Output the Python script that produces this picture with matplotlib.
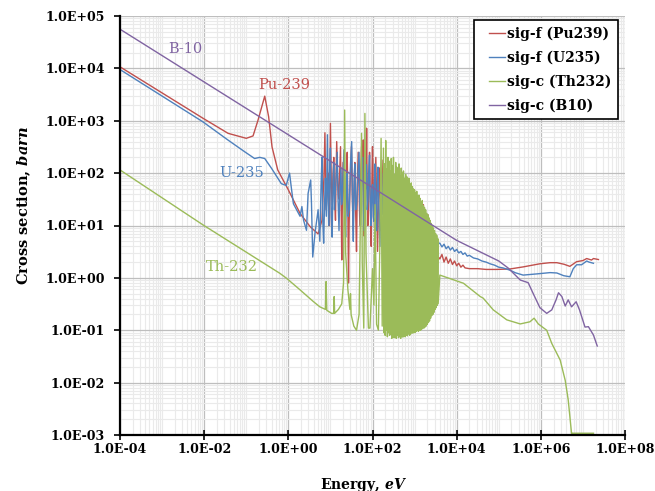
import matplotlib
matplotlib.use('Agg')
import matplotlib.pyplot as plt
from matplotlib.legend_handler import HandlerLine2D
from matplotlib.ticker import FixedLocator, LogLocator, FuncFormatter, NullFormatter

# Pu-239 fission cross section: energy (eV) and sigma (barn)
pu239_energy = [1e-4, 9.3e-3, 0.037, 0.10, 0.145, 0.19, 0.275, 0.34, 0.41, 0.56, 1.0, 1.9, 3.3, 5.1,
                6.3, 7.0, 7.4, 7.7, 7.9, 8.4, 8.9, 9.2, 9.5, 9.8, 10.0, 10.5, 11.0, 11.5, 12.0, 12.6,
                13.2, 13.6, 14.1, 15.0, 15.8, 16.6, 17.4, 18.0, 18.6, 19.3, 20.0, 21.2, 22.4, 23.7,
                25.1, 26.0, 26.9, 27.8, 28.8, 30.2, 31.6, 33.0, 34.7, 36.3, 38.0, 40.0, 41.7, 43.6,
                45.7, 48.0, 50.1, 52.5, 55.0, 57.5, 60.3, 61.5, 63.1, 65.0, 67.6, 70.0, 72.4, 75.0,
                77.6, 81.0, 85.1, 89.0, 93.3, 96.5, 100, 105, 110, 115, 120, 126, 132, 138, 145,
                152, 158, 168, 178, 189, 200, 210, 219, 230, 240, 252, 263, 288, 316,
                347, 380, 417, 447, 501, 562, 631, 708, 776, 891, 1000, 1122, 1230, 1413, 1620,
                1778, 2090, 2300, 2512, 2818, 3160, 3550, 3981, 4470, 5010, 5620, 6310, 7080, 7940,
                8910, 10000, 11200, 12600, 14100, 15800, 20000, 31600, 50100, 89100, 186000,
                380000, 955000, 1.66e6, 2.4e6, 3.55e6, 4.9e6, 7.1e6, 1.0e7, 1.23e7, 1.6e7, 1.78e7,
                2.34e7]
pu239_sigma = [1.07e4, 1120, 575, 462, 513, 1020, 2950, 1200, 316, 115, 48, 17, 9.5, 6.9,
               12.6, 80, 590, 60, 20, 40, 100, 30, 10, 150, 890, 60, 25, 90, 200, 40,
               12.6, 80, 400, 60, 32, 100, 320, 30, 2.2, 40, 160, 30, 10, 70,
               250, 20, 0.8, 10, 40, 120, 320, 40, 8, 50, 160, 15, 3.2, 60,
               250, 40, 10, 90, 320, 80, 430, 40, 6.3, 30, 160, 50, 720, 50,
               10, 60, 250, 20, 4, 60, 320, 40, 16, 60, 200, 20, 3.2, 30, 126,
               25, 8, 50, 178, 20, 2.5, 20, 80, 25, 10, 40, 100, 4, 60,
               12.6, 100, 5, 40, 100, 10, 40, 50, 12.6, 45, 8, 30, 33, 6, 25,
               8, 16, 5, 10, 2.8, 2.2, 2.6, 2.3, 2.8, 2.0, 2.5, 1.9, 2.3, 1.8,
               2.1, 1.7, 1.9, 1.6, 1.75, 1.55, 1.5, 1.5, 1.45, 1.45, 1.48,
               1.62, 1.86, 1.95, 1.95, 1.82, 1.66, 2.04, 2.14, 2.34, 2.19, 2.34,
               2.24]

# U-235 fission cross section
u235_energy = [1e-4, 9.3e-3, 0.037, 0.091, 0.158, 0.209, 0.275, 0.40, 0.68, 0.89, 1.07, 1.17, 1.32,
               1.9, 2.1, 2.3, 2.7, 2.95, 3.4, 3.55, 3.8, 4.3, 5.1,
               5.6, 6.0, 6.3, 6.6, 6.9, 7.3, 7.6, 8.0, 8.5, 8.8, 9.1, 9.6, 10, 10.5, 11, 11.5, 12,
               12.5, 13, 13.7, 14.5, 15.2, 16, 16.8, 17.8, 18.4, 19, 20, 21, 22, 23, 24, 25, 26.5,
               28, 30, 32, 33.5, 35, 36.5, 38, 40, 42, 45, 48, 50, 52, 55, 58, 60, 63, 67, 72, 75,
               78, 81, 85, 88, 92, 96, 100, 104, 108, 111, 115, 120, 125, 130, 135, 142, 150, 157,
               165, 172, 180, 190, 200, 210, 220, 230, 240, 252, 265, 278, 290, 305, 320, 335,
               350, 370, 390, 410, 430, 455, 480, 500, 520, 560, 600, 640, 680, 720, 760, 810,
               860, 930, 1000, 1070, 1150, 1220, 1300, 1400, 1500, 1600, 1700, 1850, 2000, 2150,
               2300,
               2800, 3981, 4470, 5010, 5620, 6310, 7080, 7940, 8910, 10000, 11200, 12600, 14100,
               15800, 17800, 20000, 25100, 31600, 39800, 50100, 63100, 79400, 100000, 126000,
               186000, 250000, 380000, 794000, 1.66e6, 2.4e6, 3.5e6, 4.9e6, 5.9e6, 7.1e6, 9.3e6,
               1.23e7, 1.4e7, 1.78e7]
u235_sigma = [9.5e3, 955, 427, 257, 190, 200, 190, 123, 63, 58, 100, 55, 26,
              15, 23, 12.6, 8.1, 41, 74, 26, 2.5, 7.1, 20,
              5, 60, 200, 12, 4.6, 30, 80, 15, 540, 40, 10, 120, 300, 15, 6, 60, 160,
              20, 40, 90, 250, 30, 8, 50, 120, 25, 30, 90, 280, 20, 6, 45, 100, 15,
              20, 150, 400, 30, 5, 60, 150, 20, 25, 90, 250, 30, 10, 70, 200, 25, 8, 60, 145, 20,
              30, 100, 220, 30, 10, 45, 60, 15, 12, 70, 150, 25, 8, 50, 130, 20, 4, 40,
              100, 25, 16, 50, 80, 20, 12, 40, 70, 15, 20, 45, 60, 15, 10, 30,
              40, 12, 15, 30, 35, 10, 12, 25, 30, 10, 10, 22, 25, 9, 8, 18,
              20, 8, 10, 18, 22, 8, 9, 16, 18, 7, 8, 13, 14, 6,
              6,
              4.6, 4.6, 3.9, 4.4, 3.6, 4.0, 3.4, 3.8, 3.2, 3.5, 3.0, 3.2, 2.8,
              3.0, 2.6, 2.7, 2.4, 2.3, 2.1, 2.0, 1.85, 1.75, 1.6, 1.55,
              1.40, 1.25, 1.13, 1.19, 1.26, 1.24, 1.1, 1.05, 1.5, 1.78, 1.78,
              2.1, 2.0, 1.9]

# Th-232 capture cross section
th232_energy = [1e-4, 9.5e-3, 0.63, 0.91, 1.9, 3.9, 5.6, 7.6, 7.9, 8.2, 10.7, 12.0, 12.3, 12.6,
                15.5, 18.6, 20.5, 21.8, 23.0, 26, 29, 30, 31, 36, 41.7, 48, 55, 57, 62, 66, 70,
                80, 87, 93, 100, 108, 115, 125, 138, 150, 160, 170,
                182, 188, 194, 200, 206, 212, 219, 226, 233, 240, 247, 255, 263, 271, 279, 288,
                297, 306, 315, 325, 335, 345, 356, 367, 378, 390, 402, 414, 427, 440, 454, 468,
                482, 497, 512, 528, 544, 561, 578, 596, 614, 633, 653, 673, 694, 715, 737, 760,
                783, 807, 832, 858, 884, 911, 939, 968, 998, 1030, 1060, 1090, 1125, 1160, 1195,
                1230, 1270, 1310, 1350, 1390, 1435, 1480, 1525, 1570, 1620, 1670, 1720, 1775,
                1830, 1885, 1945, 2005, 2065, 2130, 2195, 2265, 2335, 2405, 2480, 2555, 2635,
                2715, 2800, 2885, 2975, 3065, 3160, 3260, 3360, 3460, 3570, 3630,
                3981, 14500, 36300, 42700, 74000, 155000, 324000, 550000, 692000, 871000,
                1.38e6, 1.82e6, 2.88e6, 3.8e6, 4.47e6, 5.37e6, 5.5e6, 1.78e7]
th232_sigma = [115, 10.2, 1.22, 0.98, 0.59, 0.355, 0.28, 0.25, 0.85, 0.24, 0.21, 0.21, 0.44, 0.21,
               0.25, 0.32, 0.8, 1600, 3.0, 0.6, 0.25, 0.5, 0.2, 0.12, 0.1, 0.2, 575, 2, 0.11, 1380, 3,
               0.11, 0.11, 0.4, 1.5, 0.3, 25, 0.13, 0.1, 5, 460, 0.12,
               300, 0.09, 150, 0.08, 420, 0.1, 120, 0.075, 200, 0.09, 170, 0.08, 110, 0.085,
               190, 0.07, 140, 0.08, 200, 0.072, 95, 0.075, 160, 0.07, 130, 0.08, 120, 0.072,
               150, 0.075, 90, 0.07, 125, 0.078, 100, 0.074, 110, 0.08, 80, 0.075, 95, 0.08,
               85, 0.078, 70, 0.085, 80, 0.08, 60, 0.085, 65, 0.09, 55, 0.088, 50, 0.093,
               48, 0.09, 42, 0.095, 45, 0.1, 36, 0.095, 38, 0.1, 33, 0.1, 28, 0.105, 30, 0.11,
               24, 0.11, 22, 0.115, 20, 0.12, 17, 0.13, 16, 0.14, 14, 0.15, 12.5, 0.17,
               11, 0.19, 10, 0.2, 9, 0.22, 8, 0.25, 7, 0.27, 6.5, 0.3, 5.6, 0.32,
               1.13, 0.79, 0.44, 0.41, 0.245, 0.158, 0.132, 0.145, 0.17, 0.132,
               0.10, 0.056, 0.027, 0.011, 0.0047, 0.00107, 0.00108, 0.00108]

# B-10 capture cross section
b10_energy = [1e-4, 1e4, 1e5, 1.66e5, 3.24e5, 5.0e5, 6.6e5, 9.5e5, 1.38e6, 1.82e6, 2.3e6, 2.63e6,
              3.16e6, 3.8e6, 4.47e6, 5.37e6, 6.9e6, 8.3e6, 1.12e7, 1.35e7, 1.78e7, 2.19e7]
b10_sigma = [5.6e4, 5.2, 2.1, 1.55, 0.91, 0.81, 0.50, 0.27, 0.21, 0.245, 0.38, 0.52,
             0.44, 0.29, 0.38, 0.28, 0.35, 0.245, 0.115, 0.117, 0.081, 0.050]

series_labels = ['sig-f (Pu239)', 'sig-f (U235)', 'sig-c (Th232)', 'sig-c (B10)']
series_colors = ['#C0504D', '#4F81BD', '#9BBB59', '#8064A2']

# in-plot isotope tags: (text, energy, sigma)
tag_text = ['Pu-239', 'U-235', 'Th-232', 'B-10']
tag_energy = [0.79, 0.079, 0.045, 3.5e-3]
tag_sigma = [4800, 100, 1.63, 2.3e4]

x_ticks = [1e-4, 1e-2, 1e0, 1e2, 1e4, 1e6, 1e8]
y_ticks = [1e-3, 1e-2, 1e-1, 1e0, 1e1, 1e2, 1e3, 1e4, 1e5]

plt.rcParams['mathtext.fontset'] = 'custom'
plt.rcParams['mathtext.it'] = 'DejaVu Serif:italic:bold'
plt.rcParams['mathtext.rm'] = 'DejaVu Serif:bold'

fig = plt.figure(figsize=(6.55, 4.91), dpi=100)
ax = fig.add_axes([120 / 655, 1 - 435 / 491, 505 / 655, 419 / 491])
ax.set_xscale('log')
ax.set_yscale('log')

data = [(pu239_energy, pu239_sigma), (u235_energy, u235_sigma),
        (th232_energy, th232_sigma), (b10_energy, b10_sigma)]
for i, (e, s) in enumerate(data):
    ax.plot(e, s, color=series_colors[i], lw=1.0, label=series_labels[i], zorder=3 + i)

for i, t in enumerate(tag_text):
    ax.text(tag_energy[i], tag_sigma[i], t, color=series_colors[i],
            family='DejaVu Serif', fontsize=10.5, ha='center', va='center', zorder=10)

ax.set_xlim(1e-4, 1e8)
ax.set_ylim(1e-3, 1e5)

ax.xaxis.set_major_locator(FixedLocator(x_ticks))
ax.yaxis.set_major_locator(FixedLocator(y_ticks))
ax.xaxis.set_minor_locator(LogLocator(base=10, subs=range(1, 10), numticks=50))
ax.yaxis.set_minor_locator(LogLocator(base=10, subs=range(2, 10), numticks=50))
ax.xaxis.set_minor_formatter(NullFormatter())
ax.yaxis.set_minor_formatter(NullFormatter())
fmt = FuncFormatter(lambda v, p: f'{v:.1E}')
ax.xaxis.set_major_formatter(fmt)
ax.yaxis.set_major_formatter(fmt)

ax.grid(True, which='major', color='#BEBEBE', lw=0.9, zorder=0)
ax.grid(True, which='minor', color='#EAEAEA', lw=0.8, zorder=0)
ax.set_axisbelow(True)

for side in ['top', 'right']:
    ax.spines[side].set_visible(False)
for side in ['left', 'bottom']:
    ax.spines[side].set_linewidth(1.6)
    ax.spines[side].set_zorder(20)

ax.tick_params(axis='x', which='major', direction='inout', length=7, width=1.2, pad=2)
ax.tick_params(axis='y', which='major', direction='out', length=4, width=1.2, pad=7)
ax.tick_params(which='minor', length=0)
for lab in ax.get_xticklabels() + ax.get_yticklabels():
    lab.set_family('DejaVu Serif')
    lab.set_fontweight('bold')
    lab.set_fontsize(9)

fig.text(24 / 655, 1 - 205 / 491, r'Cross section, $barn$', rotation=90, ha='center', va='center',
         family='DejaVu Serif', fontweight='bold', fontsize=10.5)
fig.text(363 / 655, 1 - 489 / 491, r'Energy, $eV$', ha='center', va='baseline',
         family='DejaVu Serif', fontweight='bold', fontsize=10)

# legend keys sit a little in from the frame, as short strokes
leg = ax.legend(loc='upper right', bbox_to_anchor=(618 / 655, 1 - 20 / 491),
                bbox_transform=fig.transFigure, borderaxespad=0, fancybox=False,
                edgecolor='black', framealpha=1, handlelength=1.8, handletextpad=0.15,
                labelspacing=0.7, borderpad=0.45,
                handler_map={matplotlib.lines.Line2D: HandlerLine2D(xpad=0.65)},
                prop={'family': 'DejaVu Serif', 'weight': 'bold', 'size': 10})
leg.get_frame().set_linewidth(1.2)
leg.set_zorder(30)

plt.savefig('out.png', dpi=100)
